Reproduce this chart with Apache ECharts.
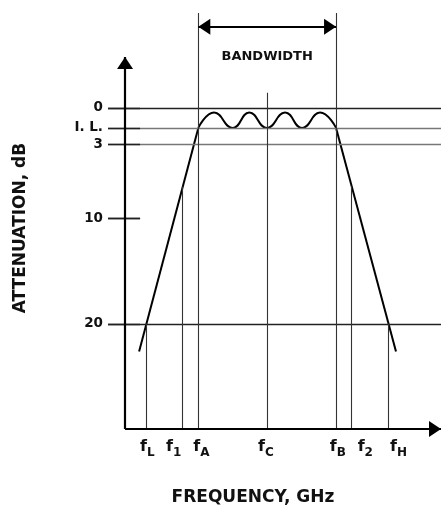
<!DOCTYPE html>
<html><head><meta charset="utf-8">
<script src="https://cdn.jsdelivr.net/npm/echarts@6/dist/echarts.min.js"></script>
<style>html,body{margin:0;padding:0;background:#fff}#c{width:441px;height:508px}</style>
</head><body><div id="c"></div>
<script>
// ---- Frequency markers (schematic GHz units) ----
const freqNames = ['L', '1', 'A', 'C', 'B', '2', 'H'];
const freqValues = [1.48, 4.06, 5.16, 9.99, 14.86, 15.96, 18.54];
const freqLineTop = [20, 7.3, -8.8, -1.4, -8.8, 7.25, 20];   // dB level where each marker line begins
const freqLabelPos = [1.55, 3.38, 5.30, 9.86, 14.91, 16.87, 19.15]; // where "f" meets its subscript

// ---- Attenuation levels (dB) ----
const levelLabels = ['0', 'I. L.', '3', '10', '20'];
const levelValues = [0, 1.85, 3.35, 10.2, 20];
const levelFull = [true, true, true, false, true];

// ---- Response curve (attenuation dB vs frequency) ----
const leftSkirt = [[0.99, 22.56], [5.16, 1.85]];
const passband = [[5.16, 1.85], [6.27, 0.43], [7.58, 1.85], [8.75, 0.43], [9.99, 1.85],
                  [11.27, 0.43], [12.46, 1.85], [13.73, 0.43], [14.86, 1.85]];
const rightSkirt = [[14.86, 1.85], [19.08, 22.56]];

// ---- Bandwidth annotation ----
const bandwidthLevel = -7.53;
const bandwidthText = 'BANDWIDTH';

// ---- Axis extents ----
const xMin = -1.2, xMax = 22.25, yMin = -10, yMax = 29.75;
const yArrowEnd = -4.73;
const tickEnd = 1.06;

const FONT = 'DejaVu Sans';
const levelColors = ['#222', '#777', '#777', '#222', '#222'];

function nearestIndex(arr, v) {
  let best = 0, d = Infinity;
  arr.forEach((p, i) => { if (Math.abs(p - v) < d) { d = Math.abs(p - v); best = i; } });
  return best;
}

const markData = [];
// horizontal level lines with labels
levelValues.forEach((v, i) => {
  markData.push([
    { name: levelLabels[i], coord: [xMin, v],
      lineStyle: { color: levelColors[i], width: 1.3, type: 'solid' },
      label: { show: true, position: 'start', formatter: levelLabels[i], distance: 5,
               color: '#111', fontFamily: FONT, fontWeight: 'bold', fontSize: 13.5 } },
    { coord: [levelFull[i] ? xMax : tickEnd, v] }
  ]);
  markData.push([
    { coord: [xMin, v], lineStyle: { color: '#222', width: 1.3, type: 'solid' } },
    { coord: [tickEnd, v] }
  ]);
});
// vertical frequency marker lines
freqValues.forEach((f, i) => {
  markData.push([
    { coord: [f, freqLineTop[i]], lineStyle: { color: '#333', width: 1.1, type: 'solid' } },
    { coord: [f, yMax] }
  ]);
});
// y axis with arrow
markData.push([
  { coord: [0, yMax], lineStyle: { color: '#000', width: 2.2, type: 'solid' } },
  { coord: [0, yArrowEnd], symbol: 'triangle', symbolSize: [16, 12], symbolOffset: [0, 6] }
]);
// x axis with arrow
markData.push([
  { coord: [0, yMax], lineStyle: { color: '#000', width: 2.2, type: 'solid' } },
  { coord: [xMax, yMax], symbol: 'triangle', symbolSize: [16, 12], symbolOffset: [0, 6] }
]);
// bandwidth double arrow
markData.push([
  { coord: [freqValues[2], bandwidthLevel], symbol: 'triangle', symbolSize: [16, 12], symbolOffset: [0, 6],
    lineStyle: { color: '#000', width: 2, type: 'solid' },
    label: { show: true, position: 'insideMiddleBottom', formatter: bandwidthText, distance: 23,
             color: '#111', fontFamily: FONT, fontWeight: 'bold', fontSize: 13 } },
  { coord: [freqValues[4], bandwidthLevel], symbol: 'triangle', symbolSize: [16, 12], symbolOffset: [0, 6] }
]);

const curveStyle = { color: '#000', width: 2 };

function labelAxis(margin, align, fontSize, textFn) {
  return {
    type: 'value', min: xMin, max: xMax, position: 'bottom', gridIndex: 0,
    axisLine: { show: false }, axisTick: { show: false }, splitLine: { show: false },
    axisLabel: {
      customValues: freqLabelPos, margin: margin, align: align,
      fontFamily: FONT, fontWeight: 'bold', fontSize: fontSize, color: '#111',
      showMinLabel: true, showMaxLabel: true, hideOverlap: false,
      formatter: v => textFn(nearestIndex(freqLabelPos, v))
    }
  };
}

const option = {
  animation: false,
  backgroundColor: '#fff',
  grid: { left: 108, top: 0, width: 333, height: 429 },
  xAxis: [
    labelAxis(10, 'right', 16, i => 'f'),
    labelAxis(18, 'left', 12, i => freqNames[i])
  ],
  yAxis: { type: 'value', inverse: true, min: yMin, max: yMax, show: false },
  graphic: [
    { type: 'text', rotation: Math.PI / 2, silent: true, x: 21, y: 228,
      style: { text: 'ATTENUATION, dB', font: 'bold 17px "DejaVu Sans"', fill: '#111', align: 'center', verticalAlign: 'middle' } },
    { type: 'text', silent: true, x: 253, y: 497.5,
      style: { text: 'FREQUENCY, GHz', font: 'bold 17px "DejaVu Sans"', fill: '#111', align: 'center', verticalAlign: 'middle' } }
  ],
  series: [
    { type: 'line', data: leftSkirt, symbol: 'none', lineStyle: curveStyle, clip: false, silent: true },
    { type: 'line', data: rightSkirt, symbol: 'none', lineStyle: curveStyle, clip: false, silent: true },
    { type: 'line', data: passband, symbol: 'none', smooth: 0.5, lineStyle: curveStyle, clip: false, silent: true,
      markLine: { silent: true, symbol: ['none', 'none'], animation: false, label: { show: false },
                  emphasis: { disabled: true }, data: markData } }
  ]
};

const chart = echarts.init(document.getElementById('c'), null, { renderer: 'canvas' });
chart.setOption(option);
</script>
</body></html>
